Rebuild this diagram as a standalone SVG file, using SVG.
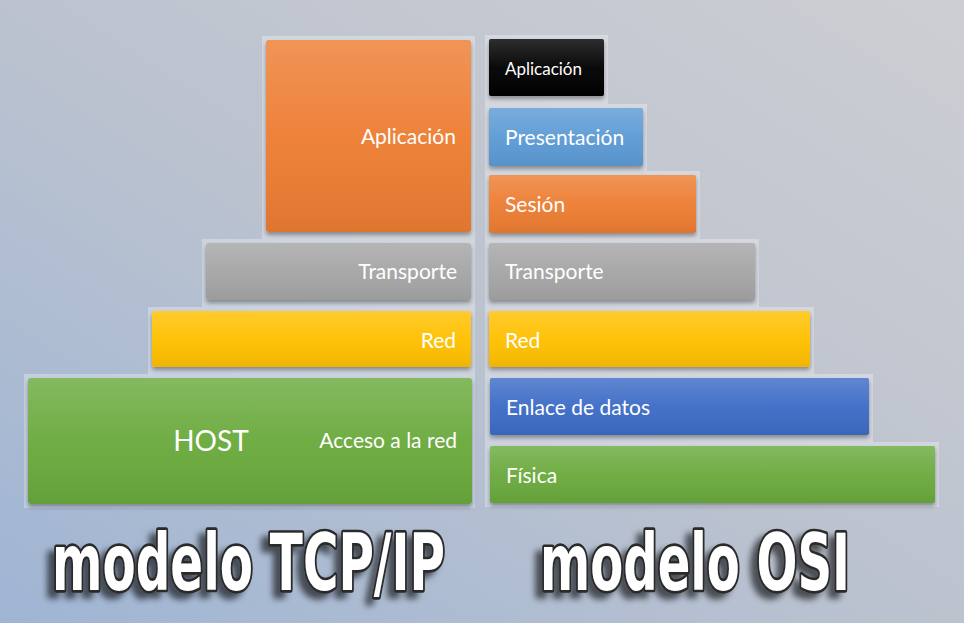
<svg xmlns="http://www.w3.org/2000/svg" width="964" height="623" viewBox="0 0 964 623">
<defs>
<linearGradient id="bg" x1="1" y1="0" x2="0" y2="1">
<stop offset="0" stop-color="#cdced3"/>
<stop offset="0.5" stop-color="#bcc3cf"/>
<stop offset="1" stop-color="#9fb5d4"/>
</linearGradient>
<linearGradient id="gloss" x1="0" y1="0" x2="0" y2="1">
<stop offset="0" stop-color="#fff" stop-opacity="0.18"/>
<stop offset="0.5" stop-color="#fff" stop-opacity="0.04"/>
<stop offset="1" stop-color="#000" stop-opacity="0.06"/>
</linearGradient>
<filter id="sh" x="-10%" y="-20%" width="120%" height="150%">
<feDropShadow dx="0" dy="3" stdDeviation="2" flood-color="#000" flood-opacity="0.35"/>
</filter>
<filter id="tsh" x="-10%" y="-30%" width="120%" height="160%">
<feDropShadow dx="-7" dy="6" stdDeviation="3" flood-color="#000" flood-opacity="0.6"/>
</filter>
<style>
.lbl{font-family:Lato,"Open Sans","Liberation Sans",sans-serif;fill:#fff;font-size:21px}
.title{font-family:"DejaVu Sans Condensed","Liberation Sans",sans-serif;font-weight:bold;font-size:60px;fill:#fff;stroke:#2a2a2a;stroke-width:4;paint-order:stroke;stroke-linejoin:round}
.back{fill:#fff;fill-opacity:0.3}
</style>
</defs>
<rect width="964" height="623" fill="url(#bg)"/>
<polygon class="back" points="262,36 475,36 475,508 24,508 24,374 148,374 148,307 202,307 202,239 262,239"/>
<polygon class="back" points="485,35 608,35 608,104 647,104 647,171 700,171 700,239 759,239 759,307 814,307 814,374 873,374 873,442 939,442 939,507 485,507"/>

<g id="tcp-aplicacion">
<rect x="266" y="40" width="205" height="192" rx="3" fill="#ed7d31" filter="url(#sh)"/>
<rect x="266" y="40" width="205" height="192" rx="3" fill="url(#gloss)"/>
<text class="lbl" x="456" y="144" text-anchor="end">Aplicación</text>
</g>
<g id="tcp-transporte">
<rect x="206" y="243" width="265" height="57" rx="3" fill="#a5a5a5" filter="url(#sh)"/>
<rect x="206" y="243" width="265" height="57" rx="3" fill="url(#gloss)"/>
<text class="lbl" x="457" y="279" text-anchor="end">Transporte</text>
</g>
<g id="tcp-red">
<rect x="152" y="311" width="319" height="56" rx="3" fill="#ffc000" filter="url(#sh)"/>
<rect x="152" y="311" width="319" height="56" rx="3" fill="url(#gloss)"/>
<text class="lbl" x="456" y="348" text-anchor="end">Red</text>
</g>
<g id="tcp-acceso">
<rect x="28" y="378" width="444" height="126" rx="3" fill="#6aaa3e" filter="url(#sh)"/>
<rect x="28" y="378" width="444" height="126" rx="3" fill="url(#gloss)"/>
<text class="lbl" x="211" y="451" text-anchor="middle" style="font-size:28px">HOST</text>
<text class="lbl" x="457" y="448" text-anchor="end">Acceso a la red</text>
</g>

<g id="osi-aplicacion">
<rect x="489" y="39" width="115" height="57" rx="2" fill="#050505" filter="url(#sh)"/>
<rect x="489" y="39" width="115" height="57" rx="2" fill="url(#gloss)"/>
<text class="lbl" x="505" y="75" style="font-size:17px">Aplicación</text>
</g>
<g id="osi-presentacion">
<rect x="489" y="108" width="154" height="58" rx="2" fill="#5b9bd5" filter="url(#sh)"/>
<rect x="489" y="108" width="154" height="58" rx="2" fill="url(#gloss)"/>
<text class="lbl" x="505" y="145">Presentación</text>
</g>
<g id="osi-sesion">
<rect x="489" y="175" width="207" height="58" rx="2" fill="#ed7d31" filter="url(#sh)"/>
<rect x="489" y="175" width="207" height="58" rx="2" fill="url(#gloss)"/>
<text class="lbl" x="505" y="212">Sesión</text>
</g>
<g id="osi-transporte">
<rect x="489" y="243" width="266" height="57" rx="2" fill="#a5a5a5" filter="url(#sh)"/>
<rect x="489" y="243" width="266" height="57" rx="2" fill="url(#gloss)"/>
<text class="lbl" x="505" y="279">Transporte</text>
</g>
<g id="osi-red">
<rect x="489" y="311" width="321" height="56" rx="2" fill="#ffc000" filter="url(#sh)"/>
<rect x="489" y="311" width="321" height="56" rx="2" fill="url(#gloss)"/>
<text class="lbl" x="505" y="348">Red</text>
</g>
<g id="osi-enlace">
<rect x="490" y="378" width="379" height="57" rx="2" fill="#3c6cc6" filter="url(#sh)"/>
<rect x="490" y="378" width="379" height="57" rx="2" fill="url(#gloss)"/>
<text class="lbl" x="506" y="415">Enlace de datos</text>
</g>
<g id="osi-fisica">
<rect x="490" y="446" width="445" height="57" rx="2" fill="#6aaa3e" filter="url(#sh)"/>
<rect x="490" y="446" width="445" height="57" rx="2" fill="url(#gloss)"/>
<text class="lbl" x="506" y="483">Física</text>
</g>

<g id="titles" filter="url(#tsh)">
<text class="title" transform="translate(52,590) scale(1,1.32)" x="0" y="0" textLength="393" lengthAdjust="spacingAndGlyphs">modelo TCP/IP</text>
<text class="title" transform="translate(540,590) scale(1,1.32)" x="0" y="0" textLength="310" lengthAdjust="spacingAndGlyphs">modelo OSI</text>
</g>
</svg>
